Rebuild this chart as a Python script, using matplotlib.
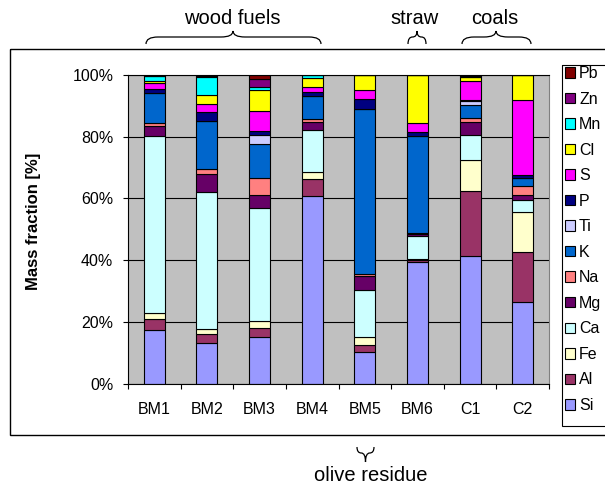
#!/usr/bin/env python3
import numpy as np
import matplotlib
matplotlib.use("Agg")
import matplotlib.pyplot as plt
from matplotlib.patches import Rectangle, Patch, PathPatch
from matplotlib.path import Path
from matplotlib.transforms import Affine2D


SAMPLES = ["BM1", "BM2", "BM3", "BM4", "BM5", "BM6", "C1", "C2"]

# mass fractions [%], bottom of the stack first
SI = [17.4, 13.2, 15.2, 60.7, 10.2, 39.5, 41.5, 26.5]
AL = [3.4, 2.9, 2.9, 5.7, 2.3, 0.5, 20.9, 16.3]
FE = [2.1, 1.6, 2.3, 2.3, 2.6, 0.3, 10.0, 12.7]
CA = [57.4, 44.3, 36.5, 13.6, 15.3, 7.4, 8.1, 4.1]
MG = [3.2, 6.0, 4.3, 2.5, 4.5, 0.7, 4.4, 1.5]
NA = [0.9, 1.4, 5.5, 1.1, 0.6, 0.3, 1.3, 3.1]
K = [9.9, 15.8, 11.1, 7.4, 53.4, 31.6, 4.2, 2.4]
TI = [0.0, 0.0, 2.7, 0.0, 0.0, 0.0, 1.1, 0.0]
P = [1.3, 2.9, 1.3, 1.1, 3.3, 1.1, 0.4, 1.1]
S = [1.7, 2.5, 6.5, 1.8, 2.9, 3.0, 6.1, 24.2]
CL = [0.8, 2.9, 6.8, 2.9, 4.9, 15.6, 1.5, 8.1]
MN = [1.5, 6.0, 0.9, 0.9, 0.0, 0.0, 0.0, 0.0]
ZN = [0.2, 0.3, 2.7, 0.0, 0.0, 0.0, 0.2, 0.0]
PB = [0.2, 0.2, 1.3, 0.0, 0.0, 0.0, 0.3, 0.0]

ELEMENTS = ["Si", "Al", "Fe", "Ca", "Mg", "Na", "K", "Ti", "P", "S", "Cl", "Mn", "Zn", "Pb"]
SERIES = [SI, AL, FE, CA, MG, NA, K, TI, P, S, CL, MN, ZN, PB]
COLORS = ["#9999FF", "#993366", "#FFFFCC", "#CCFFFF", "#660066", "#FF8080", "#0066CC",
          "#CCCCFF", "#000080", "#FF00FF", "#FFFF00", "#00FFFF", "#800080", "#800000"]

W, H = 605, 488


def brace(fig, tr, x0, x1, xc, y_end, y_mid, y_tip):
    r = min(12, (xc - x0) / 2, (x1 - xc) / 2)
    verts = [(x0, y_end), (x0, y_mid), (x0 + r, y_mid),
             (xc - r, y_mid), (xc, y_mid), (xc, y_tip),
             (xc, y_mid), (xc + r, y_mid),
             (x1 - r, y_mid), (x1, y_mid), (x1, y_end)]
    codes = [Path.MOVETO, Path.CURVE3, Path.CURVE3,
             Path.LINETO, Path.CURVE3, Path.CURVE3,
             Path.CURVE3, Path.CURVE3,
             Path.LINETO, Path.CURVE3, Path.CURVE3]
    fig.patches.append(PathPatch(Path(verts, codes), transform=tr, fill=False,
                                 edgecolor="black", linewidth=0.9))


def main():
    plt.rcParams["font.family"] = ["Liberation Sans", "DejaVu Sans"]
    fig = plt.figure(figsize=(W / 100, H / 100), dpi=100)
    px = Affine2D().scale(1 / W, -1 / H).translate(0, 1) + fig.transFigure

    ax = fig.add_axes([128 / W, 1 - 383.7 / H, 421 / W, 308.7 / H])
    ax.set_facecolor("#C0C0C0")

    data = np.array(SERIES, dtype=float)
    data = data / data.sum(axis=0) * 100
    x = np.arange(len(SAMPLES))
    bottom = np.zeros(len(SAMPLES))
    for vals, name, col in zip(data, ELEMENTS, COLORS):
        ax.bar(x, vals, 0.4, bottom=bottom, color=col, edgecolor="black",
               linewidth=0.8, label=name)
        bottom += vals

    ax.set_xlim(-0.5, len(SAMPLES) - 0.5)
    ax.set_ylim(0, 100)
    ax.set_yticks(np.arange(0, 101, 20))
    ax.set_yticklabels([f"{v}%" for v in range(0, 101, 20)], fontsize=11.5)
    ax.yaxis.grid(True, color="black", linewidth=0.8)
    ax.set_axisbelow(True)
    ax.tick_params(axis="y", length=3.6, width=0.8, pad=7)

    ax.set_xticks(x)
    ax.set_xticklabels(SAMPLES, fontsize=11.5)
    ax.set_xticks(np.arange(-0.5, len(SAMPLES)), minor=True)
    ax.tick_params(axis="x", which="major", length=0, pad=13)
    ax.tick_params(axis="x", which="minor", length=3.6, width=0.8)

    for side in ["left", "bottom", "top"]:
        ax.spines[side].set_color("black")
        ax.spines[side].set_linewidth(0.8)
    ax.spines["right"].set_color("#808080")

    ax.set_ylabel("Mass fraction [%]", fontsize=12, fontweight="bold")
    ax.yaxis.set_label_coords(-0.207, 0.526)

    # outer chart border and legend box
    fig.patches.append(Rectangle((10, 49), 600, 386, transform=px, fill=False,
                                 edgecolor="black", linewidth=1.0))
    fig.patches.append(Rectangle((562, 65), 60, 361, transform=px, fill=False,
                                 edgecolor="black", linewidth=0.8))

    handles = [Patch(facecolor=c, edgecolor="black", linewidth=0.8) for c in COLORS][::-1]
    fig.legend(handles, ELEMENTS[::-1], loc="upper left",
               bbox_to_anchor=(565 / W, 1 - 66 / H), frameon=False, fontsize=11.5,
               handlelength=0.63, handleheight=0.63, handletextpad=0.25,
               labelspacing=0.66, borderpad=0, borderaxespad=0)

    # group annotations
    fig.text(232, 24, "wood fuels", transform=px, ha="center", va="baseline", fontsize=14.5)
    fig.text(415, 24, "straw", transform=px, ha="center", va="baseline", fontsize=14.5)
    fig.text(495, 24, "coals", transform=px, ha="center", va="baseline", fontsize=14.5)
    fig.text(370.5, 481, "olive residue", transform=px, ha="center", va="baseline", fontsize=14.5)
    brace(fig, px, 146, 321, 233, 44, 37, 31)
    brace(fig, px, 408, 426, 417, 44, 37, 31)
    brace(fig, px, 462, 531, 496, 44, 37, 31)
    brace(fig, px, 357, 374, 365.5, 447, 453, 462)

    fig.savefig("out.png", dpi=100)


if __name__ == "__main__":
    main()
